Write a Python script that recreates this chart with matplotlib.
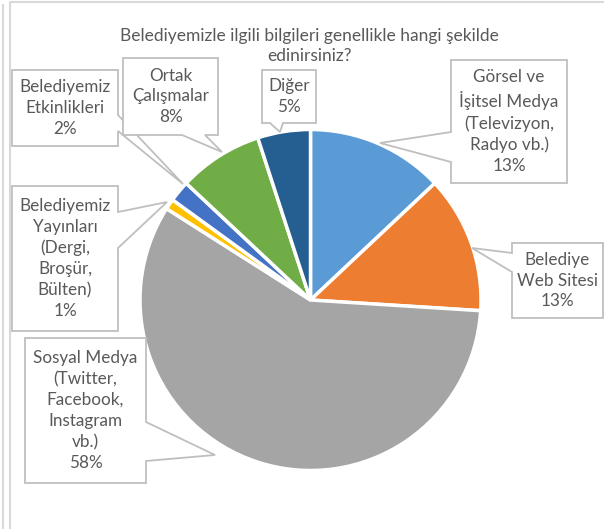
import matplotlib
matplotlib.use("Agg")
import matplotlib.pyplot as plt
from matplotlib.patches import Polygon

W, H = 604, 529

categories = [
    "Görsel ve\nİşitsel Medya\n(Televizyon,\nRadyo vb.)",
    "Belediye\nWeb Sitesi",
    "Sosyal Medya\n(Twitter,\nFacebook,\nInstagram\nvb.)",
    "Belediyemiz\nYayınları\n(Dergi,\nBroşür,\nBülten)",
    "Belediyemiz\nEtkinlikleri",
    "Ortak\nÇalışmalar",
    "Diğer",
]
values = [13, 13, 58, 1, 2, 8, 5]
colors = ["#5B9BD5", "#ED7D31", "#A5A5A5", "#FFC000", "#4472C4", "#70AD47", "#255E91"]
title = "Belediyemizle ilgili bilgileri genellikle hangi şekilde\nedinirsiniz?"

# callout layout in pixel coords: box (x0, y0, x1, y1), side, base (a, b), tip
callouts = [
    ((451, 60, 567, 183), "left", (132, 162), (380, 143)),
    ((512, 243, 603, 318), "left", (253, 272), (472, 248)),
    ((25, 338, 146, 483), "right", (422, 461), (215, 455)),
    ((12, 186, 118, 331), "right", (212, 248), (167, 202)),
    ((12, 70, 118, 146), "right", (115, 131), (183, 184)),
    ((123, 58, 218, 135), "bottom", (182, 205), (222, 152)),
    ((262, 70, 316, 123), "bottom", (270, 283), (280, 132)),
]

plt.rcParams["font.family"] = ["Lato", "DejaVu Sans"]
TXT = "#595959"
EDGE = "#BFBFBF"

fig = plt.figure(figsize=(W / 100, H / 100), dpi=100)
ax = fig.add_axes([0, 0, 1, 1])

ax.pie(values, colors=colors, startangle=90, counterclock=False,
       center=(310.5, H - 300), radius=170.5,
       wedgeprops=dict(edgecolor="white", linewidth=2.5))
ax.set_xlim(0, W)
ax.set_ylim(0, H)
ax.set_aspect("equal")
ax.axis("off")


def fy(y):
    return H - y


def callout_poly(box, side, base, tip):
    x0, y0, x1, y1 = box
    a, b = base
    if side == "left":
        pts = [(x0, y0), (x1, y0), (x1, y1), (x0, y1), (x0, b), tip, (x0, a)]
    elif side == "right":
        pts = [(x0, y0), (x1, y0), (x1, a), tip, (x1, b), (x1, y1), (x0, y1)]
    else:  # bottom
        pts = [(x0, y0), (x1, y0), (x1, y1), (b, y1), tip, (a, y1), (x0, y1)]
    return [(x, fy(y)) for x, y in pts]


for i, (cat, val) in enumerate(zip(categories, values)):
    box, side, base, tip = callouts[i]
    poly = Polygon(callout_poly(box, side, base, tip), closed=True,
                   facecolor="white", edgecolor=EDGE, linewidth=1.3,
                   zorder=5 + i * 0.01)
    ax.add_patch(poly)
    cx = (box[0] + box[2]) / 2
    cy = (box[1] + box[3]) / 2
    ax.text(cx, fy(cy), f"{cat}\n{val}%", ha="center", va="center",
            fontsize=12.3, color=TXT, linespacing=1.38, zorder=6)

ax.text(309, fy(46), title, ha="center", va="center", fontsize=12.5,
        color=TXT, linespacing=1.35)

# chart frame lines
ax.plot([10, 10, W + 5], [fy(H + 5), fy(1.5), fy(1.5)], color="#D9D9D9",
        linewidth=1.5, clip_on=False)
ax.plot([2.5, 2.5], [fy(5), fy(H + 5)], color="#D9D9D9", linewidth=1.5,
        clip_on=False)

fig.savefig("out.png", dpi=100)
